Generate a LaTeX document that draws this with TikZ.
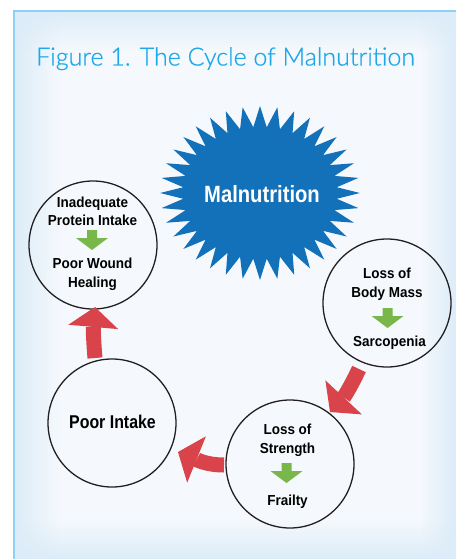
\documentclass[tikz,border=0pt]{standalone}
\usepackage{fontspec}
\setmainfont{Liberation Sans}
\newfontfamily\titlefont[FakeBold=0.7]{Lato Light}
\newfontfamily\condA[FakeStretch=0.93]{Liberation Sans}
\newfontfamily\condB[FakeStretch=0.86]{Liberation Sans}
\usetikzlibrary{arrows.meta,calc,fadings}
\definecolor{titleblue}{HTML}{1DA9E9}
\definecolor{framec}{HTML}{8ED1F2}
\definecolor{starblue}{HTML}{1271B8}
\definecolor{redc}{HTML}{D8444A}
\definecolor{greenc}{HTML}{7AB74A}
\definecolor{bgmid}{HTML}{F5F9FD}
\definecolor{bgedge}{HTML}{DCECF8}
\definecolor{inkc}{HTML}{231F20}
\tikzset{
  circ/.style={circle, draw=inkc, line width=1.3pt, minimum size=128pt, inner sep=0pt},
  lbl/.style={anchor=base, inner sep=0pt, text=black, font=\condA\bfseries\fontsize{14.5}{17}\selectfont},
  redarr/.style={draw=redc, line width=15pt, -{Triangle[width=50pt,length=20pt,line width=0pt]}},
  garrow/.pic={\fill[greenc] (-5,0) -- (5,0) -- (5,-8) -- (16,-8) -- (0,-20) -- (-16,-8) -- (-5,-8) -- cycle;}
}
\begin{document}
\begin{tikzpicture}[x=1pt,y=1pt]
\useasboundingbox (0,0) rectangle (456,-559);
\begin{scope}
  \clip (0,0) rectangle (456,-559);
  \fill[white] (0,0) rectangle (456,-559);
  \fill[bgmid] (13,-11) rectangle (480,-580);
  \fill[bgedge, path fading=east] (13,-11) rectangle (60,-580);
  \fill[bgedge, path fading=south] (13,-11) rectangle (480,-50);
  \fill[bgedge, path fading=west] (420,-11) rectangle (456,-580);
  \fill[bgedge, path fading=north] (13,-520) rectangle (480,-559);
  \draw[framec, line width=2pt] (13.5,-580) -- (13.5,-11.5) -- (480,-11.5);
\end{scope}

\node[anchor=base west, inner sep=0pt, text=titleblue, font=\titlefont\fontsize{25}{30}\selectfont] (title) at (36,-65.5) {Figure 1. The Cycle of Malnutrition};

% starburst
\fill[starblue] (360,-193) \foreach \i [evaluate=\i as \rx using {isodd(\i)?77:100}, evaluate=\i as \ry using {isodd(\i)?66:87}] in {1,...,71} { -- ({260+\rx*cos(5*\i)},{-193+\ry*sin(5*\i)}) } -- cycle;
\node[anchor=base, inner sep=0pt, text=white, font=\condB\bfseries\fontsize{23.5}{28}\selectfont] (mal) at (262,-202) {Malnutrition};

% circles
\node[circ] (c1) at (93,-245) {};
\node[circ] (c2) at (387,-303) {};
\node[circ] (c3) at (290,-464) {};
\node[circ] (c4) at (112,-423) {};

\node[lbl] (c1a) at (92.5,-207) {Inadequate};
\node[lbl] (c1b) at (92.5,-225) {Protein Intake};
\pic (g1) at (92,-230) {garrow};
\node[lbl] (c1c) at (92.5,-268) {Poor Wound};
\node[lbl] (c1d) at (92.5,-287) {Healing};

\node[lbl] (c2a) at (387,-278) {Loss of};
\node[lbl] (c2b) at (387,-297) {Body Mass};
\pic (g2) at (387.5,-308) {garrow};
\node[lbl] (c2c) at (389.5,-346) {Sarcopenia};

\node[lbl] (c3a) at (287.5,-434) {Loss of};
\node[lbl] (c3b) at (287.5,-453) {Strength};
\pic (g3) at (286.5,-463) {garrow};
\node[lbl] (c3c) at (287.5,-505) {Frailty};

\node[anchor=base, inner sep=0pt, font=\condB\bfseries\fontsize{18.5}{22}\selectfont] (c4a) at (112.5,-428) {Poor Intake};

% red cycle arrows
\coordinate (a1s) at (359,-369);
\coordinate (a1e) at (330,-412);
\coordinate (a2s) at (224,-465);
\coordinate (a2e) at (178,-452);
\coordinate (a3s) at (95,-358);
\coordinate (a3e) at (95,-307);
\draw[redarr] (a1s) to[out=245,in=47] (a1e);
\draw[redarr] (a2s) to[out=180,in=338] (a2e);
\draw[redarr] (a3s) to[out=95,in=265] (a3e);
\end{tikzpicture}
\end{document}
